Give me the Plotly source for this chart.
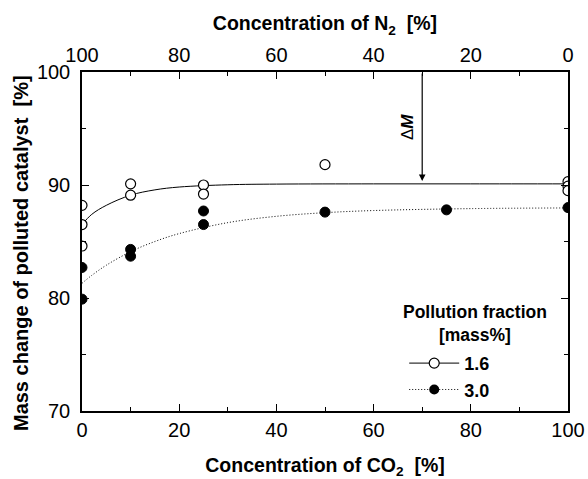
import plotly.graph_objects as go

# Measured mass change [%] versus CO2 concentration [%]
co2_16 = [0, 0, 0, 10, 10, 25, 25, 50, 100, 100, 100]
mass_16 = [88.2, 86.5, 84.6, 90.1, 89.1, 90.0, 89.2, 91.8, 90.3, 89.9, 89.5]

co2_30 = [0, 0, 10, 10, 25, 25, 50, 75, 100]
mass_30 = [82.7, 79.9, 84.3, 83.7, 87.7, 86.5, 87.6, 87.8, 88.0]

# Fitted trend curves
fit_x_16 = [0, 2, 5, 10, 15, 20, 30, 40, 60, 80, 100]
fit_y_16 = [86.5, 87.4, 88.2, 89.1, 89.57, 89.82, 90.02, 90.08, 90.1, 90.1, 90.1]

fit_x_30 = [0, 2, 5, 10, 15, 20, 30, 40, 50, 60, 80, 100]
fit_y_30 = [81.3, 82.0, 82.9, 84.1, 85.0, 85.7, 86.67, 87.23, 87.55, 87.74, 87.91, 87.97]

x_ticks = [0, 20, 40, 60, 80, 100]
y_ticks = [70, 80, 90, 100]
n2_ticks = [100, 80, 60, 40, 20, 0]

arrow_x = 70
arrow_top = 100
arrow_tip = 90.35

FONT = "Liberation Sans, Arial, sans-serif"
DOTS = "1px,2px"
GAP = "\u00a0\u00a0"

fig = go.Figure()

fig.add_trace(go.Scatter(x=fit_x_16, y=fit_y_16, mode="lines", line_shape="spline",
                         line=dict(color="black", width=1), showlegend=False, hoverinfo="skip"))
fig.add_trace(go.Scatter(x=fit_x_30, y=fit_y_30, mode="lines", line_shape="spline",
                         line=dict(color="black", width=1, dash=DOTS), showlegend=False,
                         hoverinfo="skip"))

fig.add_trace(go.Scatter(x=co2_16, y=mass_16, mode="markers", showlegend=False,
                         marker=dict(symbol="circle", size=10, color="white",
                                     line=dict(color="black", width=1.2))))
fig.add_trace(go.Scatter(x=co2_30, y=mass_30, mode="markers", showlegend=False,
                         marker=dict(symbol="circle", size=10, color="black",
                                     line=dict(color="black", width=1))))

# Legend entries (line + marker)
fig.add_trace(go.Scatter(x=[None], y=[None], mode="lines+markers", name="1.6",
                         line=dict(color="black", width=1),
                         marker=dict(symbol="circle", size=10, color="white",
                                     line=dict(color="black", width=1.2))))
fig.add_trace(go.Scatter(x=[None], y=[None], mode="lines+markers", name="3.0",
                         line=dict(color="black", width=1, dash=DOTS),
                         marker=dict(symbol="circle", size=10, color="black")))

# Top axis carrier trace for the N2 scale
fig.add_trace(go.Scatter(x=[None], y=[None], xaxis="x2", showlegend=False))

axis_common = dict(
    showline=True, linecolor="black", linewidth=1.5,
    ticks="inside", ticklen=7, tickwidth=1.2, tickcolor="black",
    showgrid=False, zeroline=False, automargin=False,
    tickfont=dict(family=FONT, size=20, color="black"),
)
title_font = dict(family=FONT, size=19.5, color="black")

fig.update_layout(
    width=588, height=479,
    margin=dict(l=82, r=20, t=72, b=68),
    paper_bgcolor="white", plot_bgcolor="white",
    font=dict(family=FONT, color="black"),
    xaxis=dict(
        range=[0, 100], tickvals=x_ticks, **axis_common,
        minor=dict(ticks="inside", ticklen=4, tickwidth=1.2, tickcolor="black", dtick=10),
        ticklabelstandoff=0,
        title=dict(text=f"<b>Concentration of CO<sub>2</sub>{GAP}[%]</b>",
                   font=title_font, standoff=19),
    ),
    xaxis2=dict(
        range=[100, 0], tickvals=n2_ticks, overlaying="x", side="top", anchor="y",
        **axis_common,
        minor=dict(ticks="inside", ticklen=4, tickwidth=1.2, tickcolor="black", dtick=10),
        ticklabelstandoff=0,
        title=dict(text=f"<b>Concentration of N<sub>2</sub>{GAP}[%]</b>",
                   font=title_font, standoff=8),
    ),
    yaxis=dict(
        range=[70, 100], tickvals=y_ticks, mirror="ticks", **axis_common,
        minor=dict(ticks="inside", ticklen=4, tickwidth=1.2, tickcolor="black", dtick=5),
        ticklabelstandoff=6,
    ),
    legend=dict(
        x=0.663, y=0.195, xanchor="left", yanchor="top",
        bgcolor="rgba(0,0,0,0)", itemwidth=50,
        font=dict(family=FONT, size=18, color="black", weight="bold"),
        tracegroupgap=0,
    ),
    annotations=[
        # y-axis title
        dict(x=-0.1255, y=0.466, xref="paper", yref="paper", showarrow=False,
             xanchor="center", yanchor="middle",
             text=f"<b>Mass change of polluted catalyst{GAP}[%]</b>", textangle=-90,
             font=dict(family=FONT, size=20, color="black")),
        # legend heading
        dict(x=0.808, y=0.258, xref="paper", yref="paper", showarrow=False, align="center",
             xanchor="center", yanchor="middle",
             text="<b>Pollution fraction</b><br><b>[mass%]</b>",
             font=dict(family=FONT, size=17.5, color="black")),
        # ΔM marker
        dict(x=arrow_x, y=arrow_tip, ax=arrow_x, ay=arrow_top, xref="x", yref="y",
             axref="x", ayref="y", showarrow=True, arrowhead=2, arrowsize=1.1,
             arrowwidth=1.2, arrowcolor="black", text=""),
        dict(x=arrow_x - 3.0, y=95.1, xref="x", yref="y", showarrow=False,
             text="Δ<b><i>M</i></b>", textangle=-90,
             font=dict(family=FONT, size=17, color="black")),
    ],
)

fig.write_html("out.html")
